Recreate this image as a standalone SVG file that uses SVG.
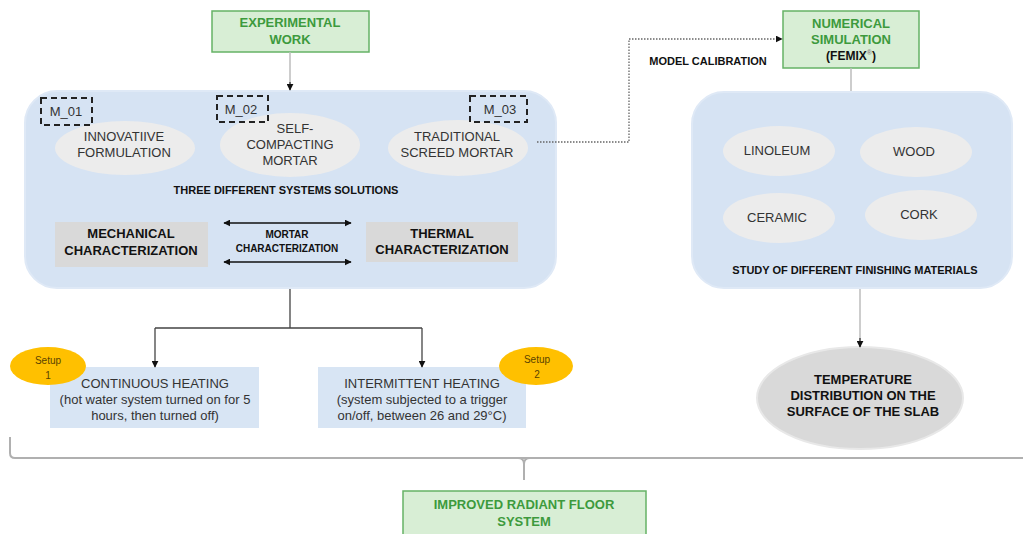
<svg xmlns="http://www.w3.org/2000/svg" width="1023" height="534" viewBox="0 0 1023 534">
<defs>
<style>
text{font-family:"Liberation Sans",Arial,sans-serif;text-anchor:middle;}
.g{fill:#d8eed5;stroke:#66b266;stroke-width:1.5;}
.gt{fill:#3d9a3d;font-weight:bold;font-size:13px;}
.panel{fill:#d6e3f3;stroke:#dfe9f6;stroke-width:2;}
.ell{fill:#ececec;}
.lbl{fill:#333;font-size:13px;}
.b{fill:#111;font-weight:bold;}
.dash{fill:none;stroke:#222;stroke-width:2;stroke-dasharray:6,4;}
.gray{fill:#d9d9d9;}
.lb{fill:#d8e5f4;}
.orange{fill:#ffc000;}
.conn{fill:none;stroke:#444;stroke-width:1.3;}
.lconn{fill:none;stroke:#bdbdbd;stroke-width:1.5;}
</style>
<marker id="ah" viewBox="0 0 10 10" refX="9" refY="5" markerWidth="7" markerHeight="7" markerUnits="userSpaceOnUse" orient="auto"><path d="M0,0 L10,5 L0,10 z" fill="#111"/></marker>
<marker id="ahs" viewBox="0 0 10 10" refX="1" refY="5" markerWidth="7" markerHeight="7" markerUnits="userSpaceOnUse" orient="auto"><path d="M10,0 L0,5 L10,10 z" fill="#111"/></marker>
</defs>
<rect width="1023" height="534" fill="#fff"/>

<g id="experimental-work">
<rect class="g" x="212" y="11" width="157" height="41"/>
<text class="gt" x="290" y="27">EXPERIMENTAL</text>
<text class="gt" x="290" y="44">WORK</text>
</g>

<g id="mortar-systems">
<rect class="panel" x="25" y="91" width="531" height="197" rx="32"/>
</g>

<g id="innovative">
<ellipse class="ell" cx="125" cy="148" rx="70" ry="27"/>
<text class="lbl" x="124" y="141">INNOVATIIVE</text>
<text class="lbl" x="124" y="157">FORMULATION</text>
</g>
<g id="m01">
<rect class="dash" x="41" y="98" width="51" height="27"/>
<text class="lbl" x="66" y="116">M_01</text>
</g>

<g id="self-compacting">
<ellipse class="ell" cx="290" cy="145" rx="70" ry="32"/>
<text class="lbl" x="295" y="133">SELF-</text>
<text class="lbl" x="290" y="149">COMPACTING</text>
<text class="lbl" x="290" y="165">MORTAR</text>
</g>
<g id="m02">
<rect class="dash" x="217" y="96" width="51" height="26"/>
<text class="lbl" x="241" y="114">M_02</text>
</g>

<g id="traditional">
<ellipse class="ell" cx="458" cy="148" rx="70" ry="28"/>
<text class="lbl" x="457" y="141">TRADITIONAL</text>
<text class="lbl" x="457" y="157">SCREED MORTAR</text>
</g>
<g id="m03">
<rect class="dash" x="470" y="96" width="57" height="26"/>
<text class="lbl" x="500" y="114">M_03</text>
</g>

<text class="b" x="286" y="194" font-size="11">THREE DIFFERENT SYSTEMS SOLUTIONS</text>

<g id="mechanical">
<rect class="gray" x="55" y="222" width="153" height="45"/>
<text class="b" x="131" y="238" font-size="13">MECHANICAL</text>
<text class="b" x="131" y="255" font-size="13">CHARACTERIZATION</text>
</g>

<g id="mortar-characterization">
<text class="b" x="287" y="238" font-size="10">MORTAR</text>
<text class="b" x="287" y="252" font-size="10">CHARACTERIZATION</text>
</g>

<g id="thermal">
<rect class="gray" x="366" y="222" width="152" height="40"/>
<text class="b" x="442" y="238" font-size="13">THERMAL</text>
<text class="b" x="442" y="254" font-size="13">CHARACTERIZATION</text>
</g>

<g id="continuous-heating">
<rect class="lb" x="50" y="367" width="209" height="61"/>
<text class="lbl" x="155" y="388">CONTINUOUS HEATING</text>
<text class="lbl" x="155" y="404">(hot water system turned on for 5</text>
<text class="lbl" x="155" y="420">hours, then turned off)</text>
</g>
<g id="setup1">
<ellipse class="orange" cx="48" cy="366" rx="38" ry="19"/>
<text x="48" y="364" font-size="10" fill="#5a4300" font-family="Carlito,'Liberation Sans',sans-serif">Setup</text>
<text x="48" y="379" font-size="10" fill="#5a4300">1</text>
</g>

<g id="intermittent-heating">
<rect class="lb" x="318" y="367" width="208" height="61"/>
<text class="lbl" x="422" y="388">INTERMITTENT HEATING</text>
<text class="lbl" x="422" y="404">(system subjected to a trigger</text>
<text class="lbl" x="422" y="420">on/off, between 26 and 29°C)</text>
</g>
<g id="setup2">
<ellipse class="orange" cx="536" cy="366" rx="37" ry="19"/>
<text x="537" y="363" font-size="10" fill="#5a4300">Setup</text>
<text x="537" y="378" font-size="10" fill="#5a4300">2</text>
</g>

<g id="improved-system">
<rect class="g" x="403" y="491" width="243" height="50"/>
<text class="gt" x="524" y="509" font-size="14">IMPROVED RADIANT FLOOR</text>
<text class="gt" x="524" y="526" font-size="14">SYSTEM</text>
</g>

<g id="model-calibration">
<text class="b" x="708" y="65" font-size="11">MODEL CALIBRATION</text>
</g>

<g id="numerical-simulation">
<rect class="g" x="783" y="11" width="136" height="57"/>
<text class="gt" x="851" y="28">NUMERICAL</text>
<text class="gt" x="851" y="44">SIMULATION</text>
<text class="b" x="851" y="60" font-size="12">(FEMIX<tspan font-size="7" dy="-5" fill="#888">®</tspan><tspan dy="5">)</tspan></text>
</g>

<g id="finishing-materials">
<rect class="panel" x="692" y="92" width="320" height="196" rx="32"/>
<text class="b" x="855" y="274" font-size="11">STUDY OF DIFFERENT FINISHING MATERIALS</text>
</g>
<g id="linoleum">
<ellipse class="ell" cx="779" cy="151" rx="56" ry="25"/>
<text class="lbl" x="777" y="155">LINOLEUM</text>
</g>
<g id="wood">
<ellipse class="ell" cx="916" cy="152" rx="56" ry="25"/>
<text class="lbl" x="914" y="156">WOOD</text>
</g>
<g id="ceramic">
<ellipse class="ell" cx="779" cy="218" rx="56" ry="25"/>
<text class="lbl" x="777" y="222">CERAMIC</text>
</g>
<g id="cork">
<ellipse class="ell" cx="921" cy="215" rx="56" ry="25"/>
<text class="lbl" x="919" y="219">CORK</text>
</g>

<g id="temperature-distribution">
<ellipse cx="860" cy="398" rx="103" ry="51" fill="#d9d9d9" stroke="#e8e8e8" stroke-width="2"/>
<text class="b" x="863" y="384" font-size="13">TEMPERATURE</text>
<text class="b" x="863" y="400" font-size="13">DISTRIBUTION ON THE</text>
<text class="b" x="863" y="416" font-size="13">SURFACE OF THE SLAB</text>
</g>

<g id="connectors">
<path class="lconn" d="M290,52 V86"/>
<path d="M290,82 V90" stroke="#111" stroke-width="1" marker-end="url(#ah)"/>
<path class="conn" d="M290,289 V328 M155,328 H422"/>
<path class="conn" d="M155,328 V367" marker-end="url(#ah)"/>
<path class="conn" d="M422,328 V367" marker-end="url(#ah)"/>
<path d="M537,142 H629 V39 H782" fill="none" stroke="#666" stroke-width="1.3" stroke-dasharray="1.5,1.5" marker-end="url(#ah)"/>
<path class="lconn" d="M851,68 V91"/>
<path class="lconn" d="M860,289 V342"/>
<path d="M860,338 V347" stroke="#111" stroke-width="1" marker-end="url(#ah)"/>
<path d="M224,223 H351" stroke="#111" stroke-width="1.3" marker-start="url(#ahs)" marker-end="url(#ah)"/>
<path d="M224,262 H351" stroke="#111" stroke-width="1.3" marker-start="url(#ahs)" marker-end="url(#ah)"/>
<path d="M10,437 V453 Q10,458 15,458 H1023 M518,458 Q524,458 524,464 V480 M530,458 Q524,458 524,464" fill="none" stroke="#b0b0b0" stroke-width="2"/>
</g>
</svg>
